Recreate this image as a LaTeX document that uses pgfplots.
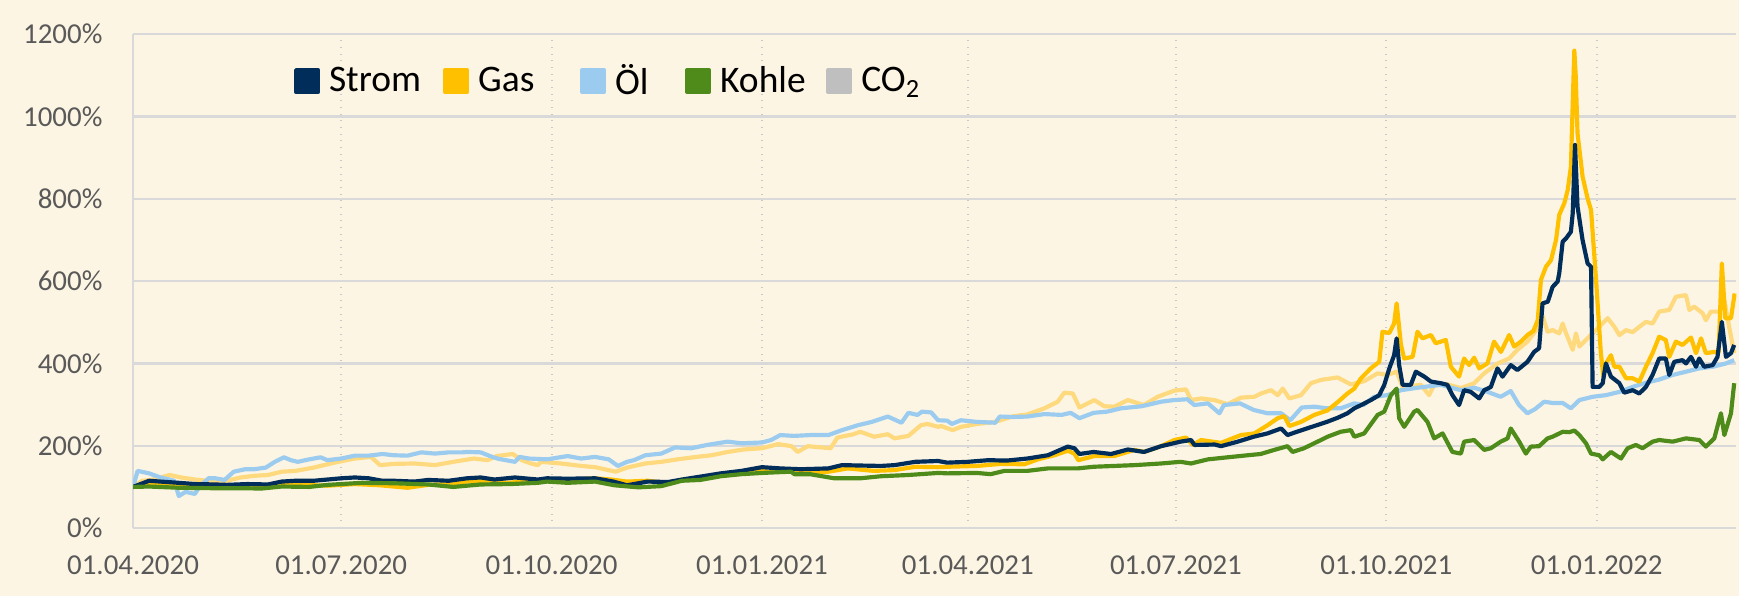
\documentclass[border=0pt]{standalone}
\usepackage{pgfplots}
\pgfplotsset{compat=1.18}
\usepackage{fontspec}
\setmainfont{Carlito}
\definecolor{bgc}{HTML}{FDF5E3}
\definecolor{gridc}{HTML}{D9D9D9}
\definecolor{vgridc}{HTML}{C8C8C8}
\definecolor{labc}{HTML}{595959}
\definecolor{stromc}{HTML}{002D5A}
\definecolor{gasc}{HTML}{FFC000}
\definecolor{oelc}{HTML}{9BCBEF}
\definecolor{kohlec}{HTML}{4E8B1A}
\definecolor{coc}{HTML}{FFD97E}
\definecolor{cogray}{HTML}{BFBFBF}
\begin{document}
\begin{tikzpicture}
\useasboundingbox (0,0) rectangle (626pt,214.6pt);
\fill[bgc] (0,0) rectangle (626pt,214.6pt);
\begin{axis}[
  at={(47.9pt,24.5pt)}, anchor=south west,
  scale only axis, width=577.1pt, height=177.8pt,
  xmin=0, xmax=701, ymin=0, ymax=1200,
  axis x line*=bottom, axis y line*=left,
  axis line style={draw=gridc, line width=0.8pt, -},
  xtick={0,91,183,275,365,456,548,640},
  xticklabels={01.04.2020,01.07.2020,01.10.2020,01.01.2021,01.04.2021,01.07.2021,01.10.2021,01.01.2022},
  ytick={0,200,400,600,800,1000,1200},
  yticklabels={0\%,200\%,400\%,600\%,800\%,1000\%,1200\%},
  major tick length=0pt,
  tick label style={font=\fontsize{10.4}{12}\selectfont, text=labc},
  xticklabel style={yshift=-6.3pt},
  yticklabel style={xshift=-7.5pt},
  xmajorgrids, ymajorgrids,
  x grid style={vgridc, dotted, line width=0.7pt},
  y grid style={gridc, line width=0.8pt},
  every axis plot/.append style={line width=1.5pt, line join=round, no markers},
  legend columns=5,
  legend style={at={(0.1004,0.905)}, anchor=west, draw=none, fill=none,
    inner sep=0pt, outer sep=0pt, font=\fontsize{13.5}{15}\selectfont,
    nodes={inner xsep=0pt, inner ysep=1pt},
    /tikz/every even column/.style={column sep=0pt}},
  legend image code/.code={\fill[#1] (0pt,-3.95pt) rectangle (7.9pt,3.95pt); \path (11.1pt,0pt);},
]
\addplot[coc, forget plot] coordinates {(0,100)(4,115)(8,117)(16,129)(21,123)(27,118)(36,113)(41,115)(47,123)(53,127)(59,129)(65,137)(71,139)(79,147)(88,159)(97,169)(104,173)(108,153)(114,156)(123,157)(132,153)(140,161)(149,169)(155,165)(159,175)(166,180)(170,165)(174,157)(177,153)(178.4,161)(187,157)(196,151)(202,148)(211,137)(216,147)(224,157)(231,161)(238,167)(245,172)(253,177)(260,185)(267,191)(275,194)(282,204)(288,199)(290.6,185)(295,199)(301,196)(305,194)(308,220)(315,228)(318,234)(324,222)(330,228)(333,218)(339,224)(344.5,250)(347.4,253)(352,246)(353.3,248)(358.4,238)(362,246)(369,253)(377,258)(385,272)(391,276)(398.5,291)(404.3,307)(407.2,329)(410.9,327)(413.8,293)(420.3,311)(424.7,296)(429,295)(435,311)(442,299)(448,319)(455.3,334)(460.4,337)(462.6,311)(467,315)(472.8,311)(478.6,301)(484.4,317)(490.3,319)(493.2,327)(497.6,335)(500.5,323)(502.7,339)(505.6,315)(510.7,323)(515,352)(519.4,360)(526.7,366)(532.5,349)(538.3,357)(544.2,376)(548.5,372)(552.5,380)(555.1,343)(563.1,348)(566.7,323)(568.9,348)(574.7,349)(580.6,340)(586.4,352)(590.8,376)(596.6,400)(601.7,412)(605.3,433)(609.7,453)(614.1,485)(616.3,516)(618.5,477)(620.7,481)(623.6,473)(625.1,497)(626.6,473)(629.5,433)(630.9,473)(632.4,441)(636.7,465)(641.1,489)(644.8,510)(647.7,489)(649.9,469)(652.8,481)(655.7,476)(658.6,489)(661.5,501)(664.4,497)(667.3,526)(671.7,530)(674.6,562)(679,566)(680.5,530)(682.6,538)(686.3,522)(687.7,505)(689.9,526)(693.6,526)(695.8,554)(697.9,489)(700.1,425)};
\addplot[oelc, forget plot] coordinates {(0,100)(2,139)(7,133)(12,123)(18,115)(20,78)(23,88)(27,83)(29,100)(33,121)(36,121)(40,117)(44,137)(49,143)(53,143)(58,147)(62,161)(66,172)(69,165)(72,161)(77,167)(82,172)(85,165)(91,169)(97,176)(103,176)(109,180)(114,177)(120,176)(126,184)(132,181)(138,184)(144,184)(146,185)(152,184)(157,173)(160,168)(164,164)(167,161)(169,173)(173,169)(181,167)(190,175)(196,169)(202,173)(208,167)(212,151)(216,161)(219,165)(224,177)(231,181)(237,196)(244,194)(251,202)(260,210)(266,206)(275,208)(279,214)(283,226)(289,224)(296,226)(304,226)(310,238)(317,250)(323,258)(330,271)(336,256)(339,280)(343,275)(345,283)(349,281)(352,262)(356,261)(358,253)(362,262)(369,258)(377,256)(379,271)(385,270)(391,271)(398.5,277)(406,275)(410,280)(413.8,267)(420,280)(426,283)(432,291)(441,296)(449.5,307)(455,311)(461,313)(464,299)(470,303)(475,279)(477,299)(484,303)(490,287)(496,279)(502,279)(506,262)(511,293)(516.5,295)(522,291)(528,291)(534,303)(538,299)(542.7,319)(548.5,323)(554.4,335)(561.6,341)(571.8,348)(580.6,335)(586.4,341)(592.2,331)(598,319)(602.4,333)(606,299)(609.7,279)(613,289)(617,307)(620.7,304)(625.1,304)(628.7,291)(632.4,311)(638.2,319)(644,323)(650,331)(655.7,343)(661.5,353)(667.3,361)(673.2,372)(679,380)(684.8,388)(690.7,392)(696.5,400)(700.1,408)};
\addplot[gasc, forget plot] coordinates {(0,100)(7,109)(15,107)(27,105)(36,104)(44,100)(56,100)(65,106)(74,105)(85,103)(97,107)(108,104)(120,98)(129,105)(138,107)(146,113)(155,115)(164,110)(173,115)(181,115)(190,117)(202,121)(209,118)(216,113)(225,115)(234,109)(240,117)(248,121)(257,129)(266,137)(272,143)(277.5,137)(286,141)(295,137)(304,137)(312.5,145)(324,139)(333,141)(342,149)(352,148)(356,149)(369,151)(379.5,156)(389.7,155)(395.6,167)(402.9,177)(408.7,188)(411.6,181)(413.3,165)(420.3,175)(429,175)(437.8,190)(442.2,185)(449.5,199)(455.3,214)(460.4,220)(463.3,202)(467,214)(475.7,207)(484.4,226)(490.3,230)(496.1,250)(500.5,267)(503.4,272)(505.6,248)(510.7,258)(516.5,275)(522.3,286)(526.7,306)(531,327)(534,339)(536.9,364)(541.2,388)(544.9,404)(546.3,477)(549.3,474)(551.4,497)(552.5,546)(554.4,445)(555.8,412)(559.5,416)(561.6,477)(563.8,461)(567.5,469)(569.6,449)(574,457)(576.2,392)(579.8,368)(582,412)(584.2,396)(586.4,414)(588.6,388)(592.2,400)(595.1,453)(598.1,428)(601.7,469)(603.9,441)(606.8,453)(609.7,469)(612.3,479)(614.2,505)(615.6,603)(617.8,635)(620,651)(622.2,700)(623.6,761)(625.8,789)(627.3,821)(628.7,878)(629.6,1050)(630.2,1160)(630.8,1100)(631.6,959)(633.8,854)(636,801)(637.5,773)(639.7,603)(641.8,425)(642.9,368)(644,400)(646.2,420)(647.7,392)(649.9,392)(652.8,364)(655.7,364)(658.6,356)(661.5,392)(664.4,425)(667.3,465)(670.2,457)(671.7,416)(674.6,453)(677.5,445)(681.2,463)(683.4,425)(685.6,461)(687.7,425)(691.4,428)(693.3,428)(694.7,643)(696.2,510)(698.7,510)(700.3,570)};
\addplot[stromc, forget plot] coordinates {(0,100)(7,115)(12,113)(20,110)(27,107)(36,106)(41,105)(50,107)(59,106)(65,113)(71,115)(79,115)(85,118)(91,121)(97,123)(103,121)(109,115)(114,115)(123,113)(129,117)(138,115)(146,121)(152,123)(158,118)(167,123)(177,118)(181,121)(190,120)(202,121)(210,113)(216,104)(225,113)(234,112)(240,118)(248,125)(257,133)(266,139)(275,148)(283,145)(292,143)(304,145)(310,153)(318,152)(327,151)(333,153)(342,161)(352,163)(356,159)(365,161)(374,165)(382,164)(391,169)(400,177)(408.7,198)(411.6,194)(413.8,180)(420,185)(427.6,180)(435,191)(442,185)(449.5,199)(458,210)(462.6,214)(464.1,202)(473,203)(475.7,199)(483,210)(490,222)(496,230)(502,242)(504.8,226)(507.8,232)(516.5,248)(522,258)(526.7,268)(531,279)(534,291)(537,299)(541.2,311)(544.9,323)(547.1,348)(549.3,388)(551.4,420)(552.5,461)(553.6,396)(555.1,348)(558.7,348)(560.9,380)(564.6,368)(567.5,356)(571.8,352)(574.7,348)(576.9,323)(579.8,299)(582,335)(584.9,331)(588.6,315)(590.8,335)(593.7,343)(596.6,388)(598.8,368)(602.4,396)(605.3,384)(609.7,404)(612.6,428)(614.8,437)(616.3,546)(618.6,550)(620.7,586)(622.9,599)(623.6,619)(625.1,696)(626.6,704)(628.7,720)(629.5,765)(630.5,931)(631.6,781)(633.8,700)(636,643)(637.5,635)(638.2,343)(641.1,343)(642.6,352)(644,400)(646.2,368)(649.9,352)(652,329)(655.7,335)(658.6,327)(661.5,343)(664.4,372)(667.3,412)(670.2,412)(671.7,372)(673.9,404)(677.5,408)(679,400)(681.2,416)(683.4,392)(684.8,412)(687,392)(690.7,396)(692.8,416)(694.7,501)(696.5,416)(698.7,425)(700.1,445)};
\addplot[kohlec, forget plot] coordinates {(0,100)(7,101)(20,98)(34,97)(48,97)(56,96)(65,101)(77,100)(85,105)(100,110)(114,109)(129,106)(140,100)(152,106)(165,107)(177,110)(181,113)(190,110)(202,113)(210.5,104)(221,99)(231,102)(240,115)(248,117)(257,126)(266,131)(275,134)(283,136)(287.7,137)(289.2,131)(296,131)(306.6,121)(318,121)(327,126)(339,129)(352,134)(356,133)(369,134)(375,131)(381,139)(391,139)(400,145)(413,145)(420,149)(429,151)(438,153)(449.5,157)(458,161)(462.6,157)(470,167)(478.6,172)(487.4,177)(493,180)(499,190)(504.8,199)(507,185)(512,194)(519.4,214)(522.3,222)(528,234)(532.5,238)(534,222)(538.3,230)(544.2,275)(547.1,283)(550,323)(552.5,339)(553.6,267)(555.8,246)(560.2,283)(561.6,287)(566,258)(568.9,218)(572.6,230)(576.9,185)(580.6,181)(582,210)(586.4,214)(590.8,190)(593.7,194)(598,210)(601,218)(602.4,242)(606.1,210)(609,181)(611.2,198)(614.8,199)(618.5,218)(620.7,222)(625.1,234)(628,233)(630.2,237)(632.4,226)(635.3,206)(637.5,181)(641.1,177)(642.6,167)(646.2,185)(650.6,169)(653.5,194)(657.1,202)(660,194)(664.4,210)(667.3,214)(673.2,210)(679,218)(684.8,214)(687.7,198)(691.4,218)(694.3,279)(695.8,226)(698.7,279)(700.1,352)};
\addlegendimage{stromc}
\addlegendentry{\makebox[41.1pt][l]{Strom}}
\addlegendimage{gasc}
\addlegendentry{\makebox[36.7pt][l]{Gas}}
\addlegendimage{oelc}
\addlegendentry{\makebox[25.2pt][l]{Öl}}
\addlegendimage{kohlec}
\addlegendentry{\makebox[38.2pt][l]{Kohle}}
\addlegendimage{cogray}
\addlegendentry{CO\textsubscript{2}}
\end{axis}
\end{tikzpicture}
\end{document}
